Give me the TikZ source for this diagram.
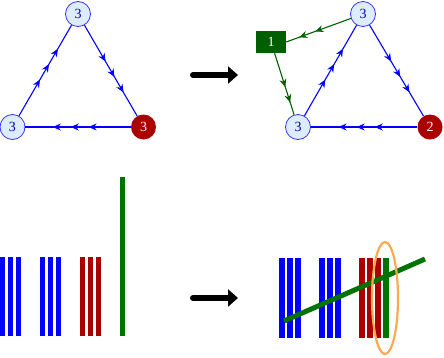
\documentclass[tikz,border=0pt]{standalone}
\usepackage{fontspec}
\setmainfont{Liberation Serif}
\usetikzlibrary{decorations.markings,arrows.meta,shapes.geometric}
\definecolor{dred}{RGB}{170,0,0}
\definecolor{dgreen}{RGB}{0,95,0}
\definecolor{bgreen}{RGB}{0,115,0}
\definecolor{lblue}{RGB}{222,236,255}
\definecolor{orng}{RGB}{250,170,80}
\tikzset{
  vtx/.style={circle, draw=blue!80, line width=0.8pt, fill=lblue, text=blue!70!black,
    minimum size=25pt, inner sep=0pt, font=\fontsize{14}{14}\selectfont},
  rvtx/.style={circle, fill=dred, text=white,
    minimum size=25pt, inner sep=0pt, font=\fontsize{14}{14}\selectfont},
  sq/.style={rectangle, fill=dgreen, text=white, minimum width=30pt, minimum height=22pt,
    inner sep=0pt, font=\fontsize{14}{14}\selectfont},
  bedge3/.style={draw=blue, line width=1.1pt, postaction=decorate,
    decoration={markings,
      mark=at position 0.40 with {\arrow[blue]{Stealth[length=8pt,width=7pt]}},
      mark=at position 0.57 with {\arrow[blue]{Stealth[length=8pt,width=7pt]}},
      mark=at position 0.74 with {\arrow[blue]{Stealth[length=8pt,width=7pt]}}}},
  gedge2/.style={draw=dgreen, line width=1.1pt, postaction=decorate,
    decoration={markings,
      mark=at position 0.55 with {\arrow[dgreen]{Stealth[length=8pt,width=7pt]}},
      mark=at position 0.80 with {\arrow[dgreen]{Stealth[length=8pt,width=7pt]}}}},
  bigarrow/.style={draw=black, line width=6pt, line cap=round,
    -{Triangle[length=10pt,width=17pt]}},
  bbar/.style={fill=blue},
  rbar/.style={fill=dred},
  gbar/.style={fill=bgreen},
}
\begin{document}
\begin{tikzpicture}[x=1pt, y=-1pt]
\useasboundingbox (0,0) rectangle (444,357);

% ---- top left graph
\node[vtx]  (A1) at (78,14) {3};
\node[vtx]  (B1) at (12.5,127) {3};
\node[rvtx] (C1) at (143.5,127) {3};
\draw[bedge3] (B1) -- (A1);
\draw[bedge3] (A1) -- (C1);
\draw[bedge3] (C1) -- (B1);

% ---- top arrow
\coordinate (p1) at (193,75);
\coordinate (p2) at (238,75);
\draw[bigarrow] (p1) -- (p2);

% ---- top right graph
\node[vtx]  (A2) at (363,14) {3};
\node[sq]   (S)  at (271,42) {1};
\node[vtx]  (B2) at (298,127) {3};
\node[rvtx] (C2) at (430,127) {2};
\draw[bedge3] (B2) -- (A2);
\draw[bedge3] (A2) -- (C2);
\draw[bedge3] (C2) -- (B2);
\draw[gedge2] (A2) -- (S.east);
\draw[gedge2] (S) -- (B2);

% ---- bottom left bars
\foreach \x in {2.7,10.7,18.7,42.7,50.7,58.7}
  \fill[bbar] (\x-2.7,257) rectangle (\x+2.7,336);
\foreach \x in {82.7,90.7,98.7}
  \fill[rbar] (\x-2.7,257) rectangle (\x+2.7,336);
\fill[gbar] (120,177) rectangle (124.8,336);

% ---- bottom arrow
\coordinate (q1) at (193,298);
\coordinate (q2) at (238,298);
\draw[bigarrow] (q1) -- (q2);

% ---- bottom right bars
\foreach \x in {282,290,298,322,330,338}
  \fill[bbar] (\x-2.7,258) rectangle (\x+2.7,338);
\foreach \x in {362,370,378}
  \fill[rbar] (\x-2.7,258) rectangle (\x+2.7,338);
\fill[gbar] (383.3,258) rectangle (388.7,338);
\coordinate (l1) at (284,321);
\coordinate (l2) at (425,259);
\draw[draw=bgreen, line width=5pt] (l1) -- (l2);
\node[ellipse, draw=orng, line width=2.2pt, minimum width=26pt, minimum height=112pt, inner sep=0pt] (E) at (385,298) {};
\end{tikzpicture}
\end{document}
